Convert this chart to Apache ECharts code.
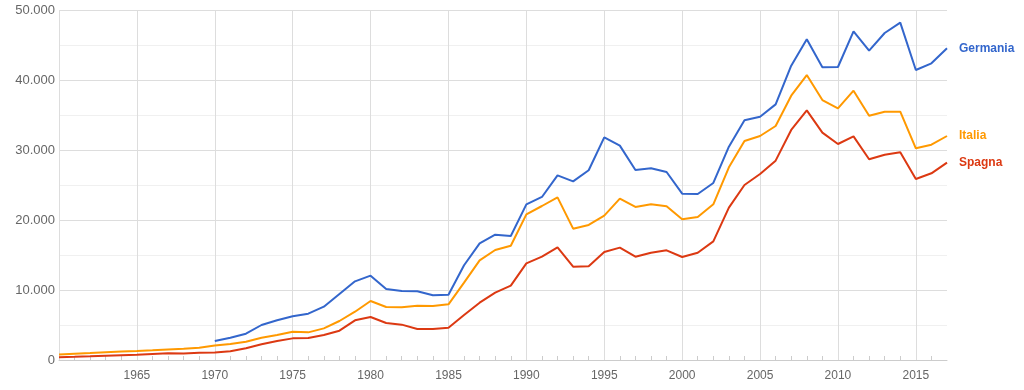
<!DOCTYPE html>
<html><head><meta charset="utf-8">
<script src="https://cdn.jsdelivr.net/npm/echarts@6/dist/echarts.min.js"></script>
<style>html,body{margin:0;padding:0;background:#fff}#c{width:1024px;height:390px}</style>
</head><body><div id="c"></div>
<script>
const years = [];
for (let y = 1960; y <= 2017; y++) years.push(y);
const germania = [null,null,null,null,null,null,null,null,null,null,
 2700,3190,3760,5000,5670,6240,6620,7620,9430,11240,
 12050,10140,9860,9810,9240,9330,13530,16670,17900,17710,
 22240,23290,26380,25520,27100,31810,30620,27140,27380,26860,
 23760,23710,25290,30480,34240,34760,36520,42050,45810,41810,
 41860,46950,44190,46710,48190,41430,42380,44530];
const italia = [800,900,1000,1120,1200,1280,1380,1500,1600,1760,
 2080,2290,2620,3190,3570,4050,3950,4520,5570,6900,
 8430,7570,7520,7760,7710,7950,11050,14240,15710,16330,
 20810,22000,23240,18760,19290,20620,23050,21860,22240,21950,
 20100,20430,22240,27520,31290,32000,33430,37760,40710,37140,
 35950,38470,34900,35470,35470,30240,30760,32000];
const spagna = [400,450,520,600,680,750,860,950,920,1020,
 1080,1240,1670,2240,2710,3090,3140,3570,4190,5670,
 6140,5290,5050,4430,4430,4620,6430,8190,9620,10620,
 13810,14760,16100,13330,13380,15430,16050,14760,15330,15670,
 14710,15330,16950,21760,25000,26570,28480,32860,35670,32480,
 30860,31950,28670,29330,29670,25860,26670,28190];
const seriesNames = ['Germania','Italia','Spagna'];
const colors = ['#3366cc','#ff9900','#dc3912'];
const toPairs = arr => arr.map((v,i)=>[years[i], v]);
const fmt = v => String(v).replace(/\B(?=(\d{3})+(?!\d))/g,'.');
const chart = echarts.init(document.getElementById('c'), null, {renderer:'canvas'});
chart.setOption({
  animation:false,
  grid:{left:59,right:77,top:10,bottom:30},
  xAxis:{type:'value',min:1960,max:2017,interval:5,
    axisLine:{show:true,lineStyle:{color:'#cccccc'}},
    axisTick:{show:true,inside:true,length:0},
    minorTick:{show:true,splitNumber:5,length:4,lineStyle:{color:'#cccccc'}},
    axisLabel:{color:'#666',fontSize:12,fontFamily:'Liberation Sans, Arial',margin:10,
      showMinLabel:false,showMaxLabel:false,formatter:v=>String(v)},
    splitLine:{show:true,showMaxLine:false,lineStyle:{color:'#dddddd'}}},
  yAxis:{type:'value',min:0,max:50000,interval:10000,
    axisLine:{show:false},axisTick:{show:false},
    minorTick:{show:false,splitNumber:2},
    minorSplitLine:{show:true,lineStyle:{color:'#f0f0f0'}},
    axisLabel:{color:'#666',fontSize:13,fontFamily:'Liberation Sans, Arial',margin:4,formatter:fmt},
    splitLine:{show:true,lineStyle:{color:'#dddddd'}}},
  series:[germania,italia,spagna].map((d,i)=>({
    name:seriesNames[i],type:'line',data:toPairs(d),showSymbol:false,
    lineStyle:{width:2,color:colors[i]},itemStyle:{color:colors[i]},
    endLabel:{show:true,formatter:'{a}',color:colors[i],fontSize:12,fontWeight:'bold',
      fontFamily:'Liberation Sans, Arial',distance:12},
    connectNulls:false}))
});
</script></body></html>
